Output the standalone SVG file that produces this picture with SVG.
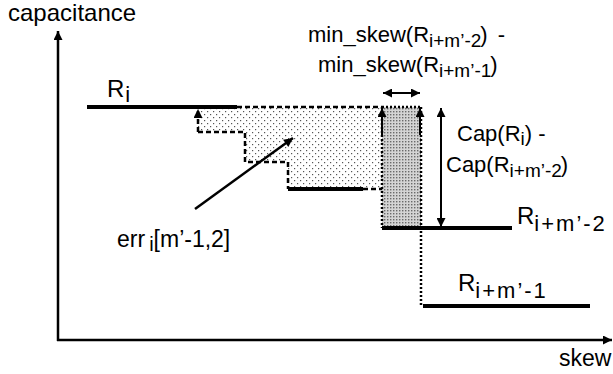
<svg xmlns="http://www.w3.org/2000/svg" width="613" height="374" viewBox="0 0 613 374">
<style>
text{font-family:"Liberation Sans",Arial,sans-serif;font-size:22px;fill:#000}
.sub{font-size:19px}
.big{font-size:24px}
.bsub{font-size:22px;letter-spacing:2px}
.thick{stroke:#000;stroke-width:4;fill:none}
.axis{stroke:#000;stroke-width:2.5;fill:none}
.dash{stroke:#000;stroke-width:2.5;stroke-dasharray:5 3;fill:none}
.dot{stroke:#000;stroke-width:2.5;stroke-dasharray:2 2;fill:none}
.thin{stroke:#000;stroke-width:2;fill:none}
</style>
<defs>
<pattern id="light" width="6" height="6" patternUnits="userSpaceOnUse">
<rect x="0" y="0" width="1.2" height="1.2" fill="#555"/>
<rect x="3" y="3" width="1.2" height="1.2" fill="#555"/>
</pattern>
<pattern id="dense" width="3" height="3" patternUnits="userSpaceOnUse">
<rect width="3" height="3" fill="#d4d4d4"/>
<rect width="1.4" height="1.4" fill="#6a6a6a"/>
</pattern>
<marker id="ah" viewBox="0 0 10 10" refX="10" refY="5" markerWidth="12" markerHeight="9" markerUnits="userSpaceOnUse" orient="auto-start-reverse">
<path d="M0,0 L10,5 L0,10 z" fill="#000"/>
</marker>
<marker id="axh" viewBox="0 0 10 10" refX="10" refY="5" markerWidth="14" markerHeight="9" markerUnits="userSpaceOnUse" orient="auto">
<path d="M0,0 L10,5 L0,10 z" fill="#000"/>
</marker>
</defs>

<g id="axes">
<line class="axis" x1="58" y1="341" x2="58" y2="31" marker-end="url(#axh)"/>
<line class="axis" x1="57" y1="340" x2="612" y2="340" marker-end="url(#axh)"/>
<text class="big" x="8" y="21">capacitance</text>
<text x="559" y="366" style="font-size:23px">skew</text>
</g>

<g id="regions">
<path d="M198,107 L382,107 L382,189 L288,189 L288,162 L245,162 L245,132 L198,132 Z" fill="url(#light)"/>
<rect x="382" y="107" width="39" height="121" fill="url(#dense)"/>
</g>

<g id="connectors">
<path class="dash" d="M237,107 L382,107"/>
<path class="dash" d="M198,132 L245,132 L245,162 L288,162 L288,189"/>
<path class="dash" d="M363,189 L382,189"/>
<path class="dot" d="M382,107 L382,228 M382,107 L421,107 M421,107 L421,305"/>
<line class="dash" x1="198" y1="132" x2="198" y2="109" marker-end="url(#ah)"/>
<line class="thin" x1="382" y1="135" x2="382" y2="108" marker-end="url(#ah)"/>
<line class="thin" x1="420" y1="135" x2="420" y2="108" marker-end="url(#ah)"/>
<line class="thin" x1="383" y1="93" x2="420" y2="93" marker-start="url(#ah)" marker-end="url(#ah)"/>
<line class="thin" x1="441" y1="108" x2="441" y2="227" marker-start="url(#ah)" marker-end="url(#ah)"/>
<line class="axis" x1="195" y1="209" x2="293" y2="138" marker-end="url(#ah)"/>
</g>

<g id="R_i">
<line class="thick" x1="87" y1="107" x2="237" y2="107"/>
<text class="big" x="107" y="97">R<tspan class="bsub" dx="1" dy="5">i</tspan></text>
</g>

<g id="R_step">
<line class="thick" x1="288" y1="189" x2="363" y2="189"/>
</g>

<g id="R_im2">
<line class="thick" x1="382" y1="228" x2="512" y2="228"/>
<text class="big" x="517" y="224">R<tspan class="bsub" dy="7">i+m’-2</tspan></text>
</g>

<g id="R_im1">
<line class="thick" x1="423" y1="306" x2="590" y2="306"/>
<text class="big" x="458" y="291">R<tspan class="bsub" dy="7">i+m’-1</tspan></text>
</g>

<g id="label_minskew">
<text x="308" y="42">min_skew(R<tspan class="sub" dy="5">i+m’-2</tspan><tspan dy="-5" dx="-1">)</tspan><tspan dx="10">-</tspan></text>
<text x="318" y="72">min_skew(R<tspan class="sub" dy="5">i+m’-1</tspan><tspan dy="-5" dx="-1">)</tspan></text>
</g>

<g id="label_cap">
<text x="457" y="141">Cap(R<tspan class="sub" dy="4">i</tspan><tspan dy="-4">) -</tspan></text>
<text x="446" y="172">Cap(R<tspan class="sub" dy="5">i+m’-2</tspan><tspan dy="-5" dx="-1">)</tspan></text>
</g>

<g id="label_err">
<text x="117" y="247" style="font-size:23px">err<tspan class="sub" dx="4" dy="4" style="font-size:20px">i</tspan><tspan dy="-4">[m’-1,2]</tspan></text>
</g>
</svg>
